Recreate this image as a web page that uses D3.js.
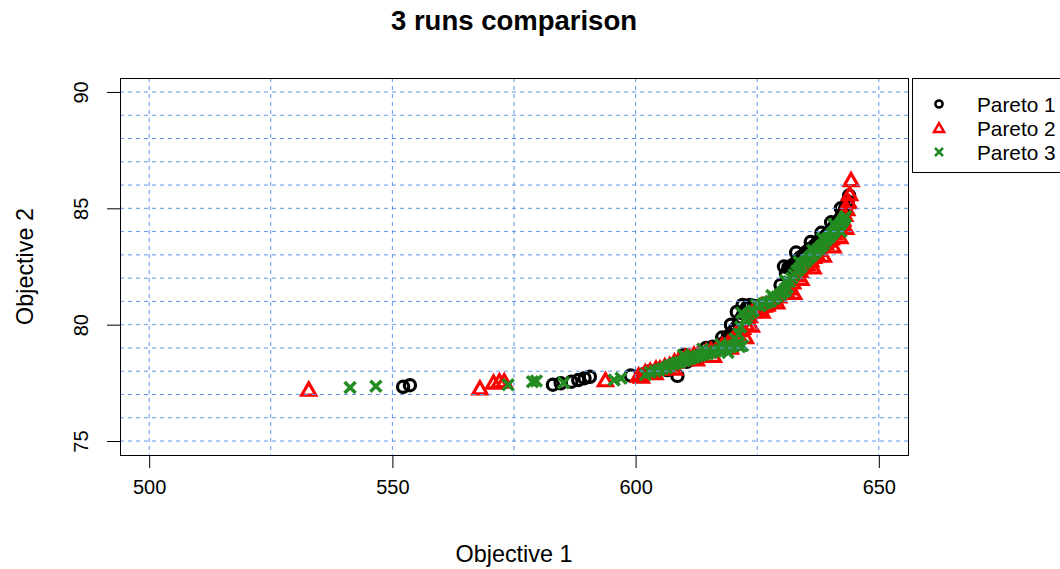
<!DOCTYPE html>
<html><head><meta charset="utf-8">
<script src="https://cdn.jsdelivr.net/npm/d3@7"></script>
<style>body{margin:0;background:#fff}svg{display:block}text{font-family:"Liberation Sans",Arial,sans-serif}</style>
</head><body><svg id="c" width="1060" height="569"></svg>
<script>
const titleText = "3 runs comparison";
const xLabel = "Objective 1";
const yLabel = "Objective 2";
const seriesNames = ["Pareto 1", "Pareto 2", "Pareto 3"];
const xTicks = [500, 550, 600, 650];
const yTicks = [75, 80, 85, 90];
const xGrid = [500, 525, 550, 575, 600, 625, 650];
const yGrid = [75, 76, 77, 78, 79, 80, 81, 82, 83, 84, 85, 86, 87, 88, 89, 90];

const p1x = [552.2, 553.6, 583.0, 584.6, 586.8, 588.2, 589.5, 590.6, 599.0, 601.5, 604.0, 606.5, 608.6, 610.5, 612.8, 615.8, 617.5, 619.7, 620.6, 621.8, 622.9, 624.5, 626.2, 627.8, 629.4, 630.6, 631.4, 632.2, 633.4, 634.4, 635.2, 636.3, 637.4, 638.6, 639.8, 640.9, 642.0, 643.1, 643.6, 643.9,
  603.0, 605.5, 607.0, 611.5, 614.0, 616.5, 618.6, 619.0, 620.2, 621.2, 622.2, 623.5, 628.6, 630.0, 630.9, 631.8, 632.8, 633.9, 634.9, 635.8, 636.8, 637.9, 639.2, 640.4, 641.5, 642.5, 643.5,
  610.0, 614.5, 617.8, 619.6, 620.8, 622.0, 629.8, 630.5, 633.0, 636.0, 638.2, 640.2, 642.2];
const p1y = [77.33, 77.40, 77.42, 77.48, 77.55, 77.62, 77.70, 77.76, 77.82, 77.86, 77.95, 78.05, 77.80, 78.40, 78.55, 79.05, 79.15, 79.55, 79.85, 80.30, 80.75, 80.80, 80.65, 80.85, 81.20, 81.45, 82.45, 82.55, 82.80, 82.95, 83.15, 83.30, 83.55, 83.70, 83.95, 84.25, 84.55, 85.00, 85.30, 85.55,
  78.00, 78.10, 78.20, 78.50, 78.75, 78.95, 79.30, 79.50, 79.75, 80.05, 80.50, 80.85, 81.05, 81.35, 82.20, 82.50, 82.65, 82.90, 83.05, 83.25, 83.40, 83.60, 83.85, 84.10, 84.40, 84.75, 85.15,
  78.70, 79.00, 79.45, 80.00, 80.55, 80.85, 81.70, 82.50, 83.10, 83.55, 83.95, 84.40, 85.00];
const p2x = [532.8, 568.0, 570.8, 572.0, 573.0, 593.8, 600.6, 602.0, 604.2, 606.0, 608.0, 610.2, 612.0, 614.5, 616.8, 619.0, 620.5, 621.6, 622.8, 624.0, 625.8, 627.0, 628.6, 630.2, 631.6, 633.0, 634.6, 636.0, 637.2, 638.4, 639.6, 640.8, 641.8, 642.6, 643.4, 644.0, 644.3,
  601.2, 603.0, 605.0, 607.0, 609.0, 611.0, 613.0, 615.5, 617.8, 620.0, 621.0, 622.0, 623.4, 625.0, 626.4, 627.8, 629.4, 631.0, 632.3, 633.8, 635.3, 636.6, 637.8, 639.0, 640.2, 641.3, 642.2, 643.0, 643.8,
  612.5, 616.0, 619.5, 622.6, 623.8, 626.0, 629.0, 632.5, 634.0, 636.5, 638.6, 640.6, 642.0, 643.2, 608.0, 604.0];
const p2y = [77.15, 77.20, 77.45, 77.50, 77.50, 77.55, 77.75, 77.90, 78.05, 78.15, 78.35, 78.55, 78.65, 78.80, 78.95, 79.15, 79.50, 79.70, 79.95, 80.50, 80.75, 80.80, 81.05, 81.30, 81.50, 82.05, 82.45, 82.70, 83.00, 83.35, 83.55, 83.85, 84.15, 84.45, 84.90, 85.55, 86.15,
  77.70, 77.95, 78.05, 78.20, 78.45, 78.55, 78.75, 78.85, 79.05, 79.30, 79.55, 79.80, 80.30, 80.60, 80.75, 80.95, 81.15, 81.35, 81.75, 82.25, 82.55, 82.85, 83.15, 83.45, 83.65, 84.00, 84.25, 84.65, 85.20,
  78.45, 78.60, 78.95, 79.40, 79.90, 80.50, 80.90, 81.30, 81.90, 82.40, 82.90, 83.30, 83.70, 84.10, 78.05, 77.85];
const p3x = [541.3, 546.6, 573.8, 578.8, 579.6, 585.2, 595.6, 597.0, 603.0, 604.8, 606.4, 607.8, 609.2, 610.6, 612.0, 613.4, 614.8, 616.4, 618.0, 619.4, 620.8, 622.0, 621.6, 622.4, 623.2, 624.2, 625.6, 627.0, 628.4, 629.8, 630.8, 631.6, 632.6, 633.6, 634.6, 635.6, 636.6, 637.6, 638.6, 639.4, 640.2, 641.0, 641.8, 642.6, 643.2,
  602.0, 604.0, 605.6, 607.0, 608.5, 610.0, 611.3, 612.7, 614.0, 615.6, 617.2, 618.7, 620.2, 621.2, 622.8, 623.8, 626.3, 627.7, 629.1, 630.3, 631.2, 632.1, 633.1, 634.1, 635.1, 636.1, 637.1, 638.1, 639.0, 639.8, 640.6, 641.4, 642.2, 642.9,
  609.8, 613.8, 617.5, 620.4, 621.8, 624.8, 628.0, 630.8, 633.6, 636.4, 638.4, 640.8, 642.2, 619.0, 621.4];
const p3y = [77.30, 77.35, 77.42, 77.55, 77.58, 77.50, 77.62, 77.70, 77.95, 78.05, 78.15, 78.30, 78.40, 78.50, 78.60, 78.70, 78.75, 78.85, 78.95, 79.05, 79.15, 79.10, 79.90, 80.20, 80.45, 80.60, 80.80, 80.95, 81.10, 81.30, 81.45, 81.85, 82.15, 82.40, 82.65, 82.85, 83.05, 83.25, 83.45, 83.70, 83.85, 84.05, 84.25, 84.45, 84.65,
  77.85, 78.00, 78.12, 78.25, 78.35, 78.45, 78.55, 78.65, 78.72, 78.80, 78.90, 79.00, 79.10, 79.60, 80.30, 80.55, 80.90, 81.00, 81.20, 81.40, 81.60, 82.00, 82.30, 82.50, 82.75, 82.95, 83.15, 83.35, 83.60, 83.75, 83.95, 84.15, 84.35, 84.55,
  78.70, 78.95, 79.15, 79.40, 80.50, 80.85, 81.25, 81.90, 82.70, 83.20, 83.70, 84.30, 84.00, 78.80, 79.05];

const svg = d3.select("#c");
const L = 120, R = 908, T = 78, B = 455;
const x = d3.scaleLinear().domain([494, 656]).range([L, R]);
const y = d3.scaleLinear().domain([74.4, 90.6]).range([B, T]);

function drawCircle(g, px, py, r, sw) {
  g.append("circle").attr("cx", px).attr("cy", py).attr("r", r)
   .attr("fill", "none").attr("stroke", "#000").attr("stroke-width", sw);
}
function drawTri(g, px, py, s, sw) {
  const h = s * Math.sqrt(3) / 2;
  g.append("path").attr("d", `M${px},${py - h*2/3}L${px + s/2},${py + h/3}L${px - s/2},${py + h/3}Z`)
   .attr("fill", "none").attr("stroke", "#ff0000").attr("stroke-width", sw).attr("stroke-linejoin", "miter");
}
function drawX(g, px, py, s, sw) {
  g.append("path").attr("d", `M${px-s},${py-s}L${px+s},${py+s}M${px-s},${py+s}L${px+s},${py-s}`)
   .attr("stroke", "#228b22").attr("stroke-width", sw).attr("fill", "none");
}
const gp = svg.append("g");
p1x.forEach((v, i) => drawCircle(gp, x(v), y(p1y[i]), 5.6, 3.2));
p2x.forEach((v, i) => drawTri(gp, x(v), y(p2y[i]), 14, 3.2));
p3x.forEach((v, i) => drawX(gp, x(v), y(p3y[i]), 5.5, 3.5));

// grid on top
const gg = svg.append("g").attr("stroke", "#6495ed").attr("stroke-width", 1).attr("stroke-dasharray", "4,4");
gg.selectAll("line.v").data(xGrid).join("line").attr("class", "v")
  .attr("x1", d => x(d)).attr("x2", d => x(d)).attr("y1", T).attr("y2", B);
gg.selectAll("line.h").data(yGrid).join("line").attr("class", "h")
  .attr("y1", d => y(d)).attr("y2", d => y(d)).attr("x1", L).attr("x2", R);

// axes
const xa = svg.append("g").attr("transform", `translate(0,${B})`)
  .call(d3.axisBottom(x).tickValues(xTicks).tickSize(13).tickPadding(26).tickSizeOuter(0));
xa.select(".domain").attr("d", `M${x(500)},0.5H${x(650)}`);
xa.selectAll("text").attr("font-size", 20).attr("font-family", "Liberation Sans, Arial").attr("fill", "#000").attr("dy", "0");
const ya = svg.append("g").attr("transform", `translate(${L},0)`)
  .call(d3.axisLeft(y).tickValues(yTicks).tickSize(13).tickSizeOuter(0));
ya.select(".domain").attr("d", `M0.5,${y(75)}V${y(90)}`);
ya.selectAll("text").attr("font-size", 20).attr("font-family", "Liberation Sans, Arial").attr("fill", "#000")
  .attr("text-anchor", "middle").attr("dy", "0").attr("x", 0).attr("y", 0)
  .attr("transform", "translate(-32,0) rotate(-90)");
svg.selectAll(".tick line").attr("stroke", "#000");
svg.selectAll(".domain").attr("stroke", "#000");

// box
svg.append("rect").attr("x", L + 0.5).attr("y", T + 0.5).attr("width", R - L).attr("height", B - T)
  .attr("fill", "none").attr("stroke", "#000").attr("stroke-width", 1);

// titles
svg.append("text").attr("x", 514).attr("y", 30).attr("text-anchor", "middle")
  .attr("font-size", 27.5).attr("font-weight", "bold").text(titleText);
svg.append("text").attr("x", 514).attr("y", 562).attr("text-anchor", "middle")
  .attr("font-size", 23.4).text(xLabel);
svg.append("text").attr("transform", `translate(33,${(T + B) / 2}) rotate(-90)`).attr("text-anchor", "middle")
  .attr("font-size", 23.4).text(yLabel);

// legend
const lg = svg.append("g");
lg.append("rect").attr("x", 912.5).attr("y", 78.5).attr("width", 160).attr("height", 94)
  .attr("fill", "#fff").attr("stroke", "#000").attr("stroke-width", 1);
const rowsY = [104, 128, 152];
seriesNames.forEach((n, i) => {
  lg.append("text").attr("x", 977).attr("y", rowsY[i] + 7.5).attr("font-size", 20.8).text(n);
});
drawCircle(lg, 939, rowsY[0], 3.6, 2.5);
drawTri(lg, 939, rowsY[1] + 1, 10, 2.5);
drawX(lg, 939, rowsY[2], 4, 2.5);
</script></body></html>
